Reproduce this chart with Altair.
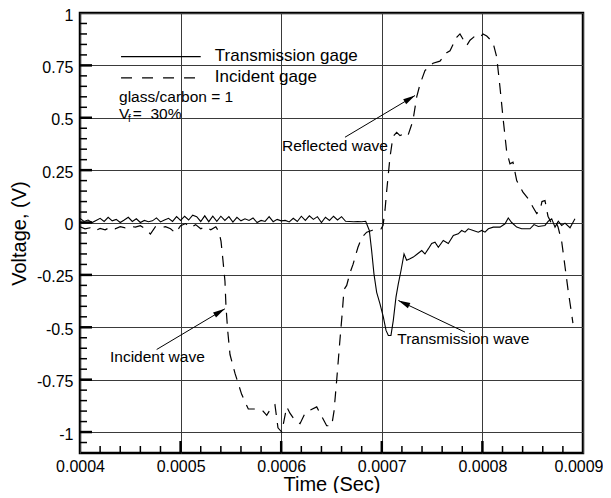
import math
import altair as alt
import pandas as pd

XMIN, XMAX = 0.0004, 0.0009
YMIN, YMAX = -1.1, 1.0
W, H = 503, 440
FONT = "Liberation Sans"

# ---------------- data (time in microseconds, voltage in V) ----------------
trans_us = [400, 404, 408, 412, 416, 420, 424, 428, 432, 436,
            440, 444, 448, 452, 456, 460, 464, 468, 472, 476,
            480, 484, 488, 492, 496, 500, 504, 508, 512, 516,
            520, 524, 528, 532, 536, 540, 544, 548, 552, 556,
            560, 564, 568, 572, 576, 580, 584, 588, 592, 596,
            600, 604, 608, 612, 616, 620, 624, 628, 632, 636,
            640, 644, 648, 652, 656, 660, 664, 668, 672, 676,
            680, 684,
            687.6, 689.9, 692.2, 694.9, 698.2, 701.5, 704.2, 706.5, 709.1, 711.4,
            714.1, 716.4, 719.1, 722.1, 724.7, 728.0, 731.3, 735.3, 739.7, 742.9,
            746.2, 749.6, 752.9, 756.2, 761.1, 766.1, 771.1, 776.0, 779.4, 782.7,
            786.0, 790.9, 795.9, 799.3, 802.6, 805.9, 810.8, 817.5, 822.5, 825.7,
            829.1, 834.1, 839.0, 847.3, 851.3, 855.6, 862.2, 865.5, 868.9, 872.2,
            875.4, 878.8, 882.1, 887.1, 892.0]
trans_v = [0.02, 0.005, 0.012, 0.0, 0.01, 0.02, 0.005, 0.025, 0.008, 0.015,
           0.0, 0.012, 0.025, 0.005, 0.018, 0.0, 0.01, 0.004, 0.008, 0.022,
           0.003, 0.012, 0.02, 0.005, 0.028, 0.01, 0.03, 0.012, 0.035, 0.028,
           0.005, 0.032, 0.004, 0.03, 0.006, 0.03, 0.01, 0.028, 0.002, 0.025,
           0.008, 0.018, 0.01, 0.022, 0.0, 0.01, 0.005, 0.028, 0.004, 0.015,
           0.008, 0.01, 0.003, 0.02, 0.005, 0.03, 0.01, 0.032, 0.015, 0.028,
           0.0, 0.025, 0.01, 0.03, 0.012, 0.028, 0.006, 0.005, 0.004, 0.005,
           0.004, 0.006,
           -0.038, -0.134, -0.245, -0.333, -0.388, -0.45, -0.515, -0.539, -0.539, -0.468,
           -0.356, -0.293, -0.229, -0.15, -0.18, -0.173, -0.165, -0.15, -0.134, -0.15,
           -0.126, -0.10, -0.094, -0.118, -0.086, -0.10, -0.062, -0.054, -0.038, -0.046,
           -0.03, -0.038, -0.046, -0.038, -0.046, -0.03, -0.022, -0.022, -0.006, 0.022,
           0.0, -0.022, -0.03, -0.03, -0.01, -0.019, -0.014, 0.006, 0.018, -0.022,
           0.006, -0.014, -0.003, -0.025, 0.018]

inc_us = [400, 405, 410, 415, 420, 425, 430, 435, 440, 445,
          450, 455, 460, 465, 470, 475, 480, 485, 490, 495,
          500, 505, 510, 515, 520, 525, 530, 535,
          538.2, 540.2, 542.1, 544.1, 545.1, 546.8, 549.1, 554.1, 560.7, 567.3,
          574.0, 581.9, 585.6, 590.6, 593.8, 596.8, 600.5, 605.5, 608.7, 613.7,
          618.7, 623.7, 626.6, 635.3, 638.6, 645.2, 650.2, 652.5, 655.2, 658.4,
          660.7, 662.4, 665.1, 668.4, 671.4, 676.3, 680.3, 685.0, 690.0, 695.2,
          699.2, 701.2, 703.2, 704.9, 708.1, 711.1, 714.8, 718.1, 723.1, 726.0,
          731.0, 734.7, 738.0, 742.9, 750.9, 757.8, 764.5, 767.8, 774.4, 777.7,
          784.4, 787.7, 792.6, 797.6, 800.6, 804.3, 810.5, 814.2, 817.5, 820.5,
          824.1, 827.4, 830.4, 834.1, 840.3, 845.3, 850.3, 854.0, 857.2, 859.2,
          862.2, 865.2, 868.2, 872.2, 875.1, 878.8, 882.1, 885.1, 888.8, 890.0]
inc_v = [-0.02, -0.03, -0.025, -0.04, -0.028, -0.035, -0.022, -0.03, -0.02, -0.025,
         -0.018, -0.022, -0.015, -0.03, -0.055, -0.02, -0.025, -0.02, -0.03, -0.05,
         -0.015, -0.005, -0.025, -0.01, -0.03, -0.02, -0.035, -0.02,
         -0.045, -0.09, -0.18, -0.28, -0.40, -0.515, -0.63, -0.72, -0.82, -0.89,
         -0.89, -0.90, -0.92, -0.88, -0.87, -0.98, -1.0, -0.88, -0.91, -0.945,
         -0.96, -0.91, -0.90, -0.88, -0.91, -0.97, -0.97, -0.90, -0.75, -0.56,
         -0.43, -0.32, -0.30, -0.24, -0.20, -0.118, -0.07, -0.046, -0.038, -0.03,
         -0.03, -0.014, 0.06, 0.153, 0.31, 0.41, 0.43, 0.415, 0.425, 0.415,
         0.487, 0.60, 0.66, 0.725, 0.76, 0.77, 0.81, 0.82, 0.884, 0.90,
         0.845, 0.87, 0.89, 0.884, 0.90, 0.89, 0.86, 0.79, 0.645, 0.50,
         0.34, 0.28, 0.288, 0.20, 0.145, 0.115, 0.073, 0.043, 0.057, 0.10,
         0.105, 0.03, 0.0, 0.01, -0.02, -0.09, -0.21, -0.32, -0.44, -0.48]

# axis ticks
x_major = [0.0004, 0.0005, 0.0006, 0.0007, 0.0008, 0.0009]
x_minor_us = [420, 440, 460, 480, 520, 540, 560, 580, 620, 640, 660, 680,
              720, 740, 760, 780, 820, 840, 860, 880]
y_major = [1, 0.75, 0.5, 0.25, 0, -0.25, -0.5, -0.75, -1]
y_minor = [0.95, 0.9, 0.85, 0.8, 0.7, 0.65, 0.6, 0.55, 0.45, 0.4, 0.35, 0.3,
           0.2, 0.15, 0.1, 0.05, -0.05, -0.1, -0.15, -0.2, -0.3, -0.35, -0.4, -0.45,
           -0.55, -0.6, -0.65, -0.7, -0.8, -0.85, -0.9, -0.95, -1.05]

# annotations (data coordinates)
note_text = ["Reflected wave", "Incident wave", "Transmission wave"]
note_x = [0.0006008, 0.0004298, 0.0007154]
note_y = [0.3435, -0.668, -0.582]
arrow_x1 = [0.0006634, 0.0004762, 0.0007827]
arrow_y1 = [0.407, -0.606, -0.523]
arrow_x2 = [0.000733, 0.000544, 0.0007164]
arrow_y2 = [0.606, -0.412, -0.372]

legend_labels = ["Transmission gage", "Incident gage"]
legend_line_y = [0.792, 0.69]
legend_text_y = [0.7705, 0.669]
legend_x1, legend_x2, legend_tx = 0.0004408, 0.00052, 0.000534

# ---------------- chart ----------------
XS = alt.Scale(domain=[XMIN, XMAX], nice=False, zero=False)
YS = alt.Scale(domain=[YMIN, YMAX], nice=False, zero=False)

trans_df = pd.DataFrame({"t": [u * 1e-6 for u in trans_us], "v": trans_v})
inc_df = pd.DataFrame({"t": [u * 1e-6 for u in inc_us], "v": inc_v})


def px(x):
    return (x - XMIN) / (XMAX - XMIN) * W


def py(y):
    return (YMAX - y) / (YMAX - YMIN) * H


angles = [math.degrees(math.atan2(py(b2) - py(b1), px(a2) - px(a1))) % 360
          for a1, b1, a2, b2 in zip(arrow_x1, arrow_y1, arrow_x2, arrow_y2)]

arrows_df = pd.DataFrame({"x1": arrow_x1, "y1": arrow_y1, "x2": arrow_x2,
                          "y2": arrow_y2, "ang": angles})
notes_df = pd.DataFrame({"label": note_text, "x": note_x, "y": note_y})

LAST = "datum.value > 0.00089"
XA = alt.Axis(values=x_major, title="Time (Sec)", labelExpr="'' + datum.value",
              ticks=False, domain=False, grid=True, gridColor="#3a3a3a",
              gridWidth=1, labelFlush=False, labelPadding=5, labelFontSize=16,
              labelAlign=alt.condition(LAST, alt.value("right"), alt.value("center")),
              labelOffset=alt.condition(LAST, alt.value(20), alt.value(0)),
              labelColor="black", titleFontSize=20, titleFontWeight="normal",
              titleColor="black", titleY=37, titleBaseline="alphabetic")
YA = alt.Axis(values=y_major, title="Voltage, (V)", labelExpr="'' + datum.value",
              ticks=False, domain=False, grid=True, gridColor="#3a3a3a",
              gridWidth=1, labelFlush=False, labelPadding=7, labelFontSize=16,
              labelOffset=2, labelColor="black", titleFontSize=20,
              titleFontWeight="normal", titleColor="black", titleX=-55,
              titleY=H / 2, titleAngle=270, titleAlign="center",
              titleBaseline="alphabetic")


def X(f):
    return alt.X(f, scale=XS, axis=XA)


def Y(f):
    return alt.Y(f, scale=YS, axis=YA)


trans_line = alt.Chart(trans_df).mark_line(color="black", strokeWidth=1.1).encode(
    x=X("t:Q"), y=Y("v:Q"))
inc_line = alt.Chart(inc_df).mark_line(color="black", strokeWidth=1.2,
                                       strokeDash=[11, 8]).encode(
    x=X("t:Q"), y=Y("v:Q"))

# inward ticks
ymin_df = pd.DataFrame({"v": y_minor})
ymaj_df = pd.DataFrame({"v": y_major[1:]})
xmin_df = pd.DataFrame({"t": [u * 1e-6 for u in x_minor_us]})
xmaj_df = pd.DataFrame({"t": x_major[1:-1]})

tick_l_min = alt.Chart(ymin_df).mark_rule(color="black", strokeWidth=1.5).encode(
    y=Y("v:Q"), x=alt.value(0), x2=alt.value(7))
tick_l_maj = alt.Chart(ymaj_df).mark_rule(color="black", strokeWidth=2.5).encode(
    y=Y("v:Q"), x=alt.value(0), x2=alt.value(12))
tick_b_min = alt.Chart(xmin_df).mark_rule(color="black", strokeWidth=1.5).encode(
    x=X("t:Q"), y=alt.value(H), y2=alt.value(H - 7))
tick_b_maj = alt.Chart(xmaj_df).mark_rule(color="black", strokeWidth=2.5).encode(
    x=X("t:Q"), y=alt.value(H), y2=alt.value(H - 12))

# arrows
arrow_lines = alt.Chart(arrows_df).mark_rule(color="black", strokeWidth=1).encode(
    x=X("x1:Q"), y=Y("y1:Q"), x2="x2:Q", y2="y2:Q")
arrow_heads = alt.Chart(arrows_df).mark_point(
    shape="M0,0L-1,-0.24L-1,0.24Z", size=576, filled=True, color="black",
    opacity=1, strokeWidth=0).encode(
    x=X("x2:Q"), y=Y("y2:Q"), angle=alt.Angle("ang:Q", scale=None))
notes = alt.Chart(notes_df).mark_text(font=FONT, fontSize=15.5, align="left",
                                      baseline="alphabetic", color="black").encode(
    x=X("x:Q"), y=Y("y:Q"), text="label:N")

# legend (drawn inside the plot)
leg_df = pd.DataFrame({"label": legend_labels, "ly": legend_line_y,
                       "ty": legend_text_y, "x1": [legend_x1] * 2,
                       "x2": [legend_x2] * 2, "tx": [legend_tx] * 2})
leg_solid = alt.Chart(leg_df.iloc[[0]]).mark_rule(color="black", strokeWidth=1.1).encode(
    x=X("x1:Q"), x2="x2:Q", y=Y("ly:Q"))
leg_dash = alt.Chart(leg_df.iloc[[1]]).mark_rule(color="black", strokeWidth=1.2,
                                                 strokeDash=[11, 10]).encode(
    x=X("x1:Q"), x2="x2:Q", y=Y("ly:Q"))
leg_text = alt.Chart(leg_df).mark_text(font=FONT, fontSize=17, align="left",
                                       baseline="alphabetic", color="black").encode(
    x=X("tx:Q"), y=Y("ty:Q"), text="label:N")

info_df = pd.DataFrame({
    "label": ["glass/carbon = 1", "V", "f", "=\u00a0\u00a030%"],
    "x": [0.0004388, 0.0004388, 0.0004478, 0.0004525],
    "y": [0.573, 0.496, 0.482, 0.496],
    "size": [15.5, 15.5, 10, 15.5],
})
info = alt.Chart(info_df).mark_text(font=FONT, align="left", baseline="alphabetic",
                                    color="black").encode(
    x=X("x:Q"), y=Y("y:Q"), text="label:N", size=alt.Size("size:Q", scale=None))

chart = alt.layer(
    trans_line, inc_line, tick_l_min, tick_l_maj, tick_b_min, tick_b_maj,
    arrow_lines, arrow_heads, notes, leg_solid, leg_dash, leg_text, info,
).properties(
    width=W, height=H, autosize="none",
    padding={"left": 72, "top": 5, "right": 20, "bottom": 40},
).configure_view(
    stroke="black", strokeWidth=2.5,
).configure_axis(
    labelFont=FONT, titleFont=FONT,
)

chart.save("out.html", embed_options={"renderer": "svg", "actions": False})
